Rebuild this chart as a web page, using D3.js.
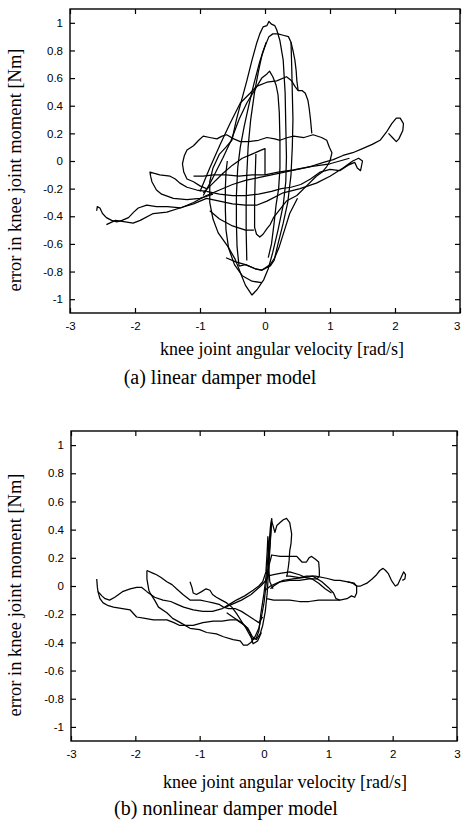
<!DOCTYPE html>
<html>
<head>
<meta charset="utf-8">
<script src="https://cdn.jsdelivr.net/npm/d3@7"></script>
<style>
  body { margin: 0; background: #fff; }
  svg { display: block; }
</style>
</head>
<body>
<svg id="chart" width="462" height="822"></svg>
<script>
const svg = d3.select('#chart')

const xTicks = [-3, -2, -1, 0, 1, 2, 3]
const yTicks = [-1, -0.8, -0.6, -0.4, -0.2, 0, 0.2, 0.4, 0.6, 0.8, 1]
const yLabel = 'error in knee joint moment [Nm]'
const xLabel = 'knee joint angular velocity [rad/s]'
const captions = ['(a) linear damper model', '(b) nonlinear damper model']

// (a) linear damper model : traces, [velocity, error]
const topDiagUpper = [[-2.59,-0.36],[-2.58,-0.33],[-2.54,-0.34],[-2.50,-0.38],[-2.44,-0.41],[-2.36,-0.43],[-2.28,-0.44],[-2.20,-0.43],[-2.10,-0.41],[-2.02,-0.37],[-1.95,-0.34],[-1.82,-0.32],[-1.67,-0.33],[-1.50,-0.33],[-1.30,-0.34],[-1.10,-0.30],[-0.90,-0.25],[-0.70,-0.21],[-0.50,-0.17],[-0.30,-0.14],[-0.10,-0.12],[0.10,-0.10],[0.30,-0.08],[0.50,-0.06],[0.70,-0.04],[0.90,-0.01],[1.05,0.01],[1.20,0.04],[1.35,0.06],[1.50,0.09],[1.65,0.12],[1.77,0.15],[1.87,0.21],[1.95,0.27],[2.02,0.31],[2.08,0.31],[2.13,0.27],[2.12,0.22],[2.06,0.16],[2.02,0.14],[1.96,0.17],[1.90,0.20]]
const topDiagLower = [[-2.44,-0.46],[-2.30,-0.43],[-2.15,-0.44],[-2.03,-0.45],[-1.92,-0.43],[-1.72,-0.38],[-1.51,-0.37],[-1.31,-0.34],[-1.10,-0.31],[-0.90,-0.27],[-0.70,-0.29],[-0.50,-0.31],[-0.30,-0.32],[-0.13,-0.32],[0.03,-0.29],[0.28,-0.23],[0.54,-0.20],[0.79,-0.16],[1.00,-0.11],[1.20,-0.05],[1.35,0.00],[1.44,0.02],[1.50,0.00],[1.47,-0.07],[1.42,-0.05],[1.38,-0.01],[1.28,-0.03],[1.15,-0.07],[1.00,-0.06],[0.85,-0.08],[0.70,-0.13],[0.55,-0.17],[0.40,-0.19],[0.25,-0.20],[0.10,-0.22],[-0.10,-0.24],[-0.30,-0.25],[-0.50,-0.25],[-0.70,-0.24],[-0.90,-0.22]]
const topWiggleLeft = [[-0.80,-0.24],[-1.00,-0.27],[-1.20,-0.28],[-1.41,-0.27],[-1.59,-0.24],[-1.67,-0.21],[-1.74,-0.15],[-1.76,-0.11],[-1.77,-0.08],[-1.70,-0.09],[-1.62,-0.10],[-1.46,-0.11],[-1.38,-0.13],[-1.31,-0.16],[-1.20,-0.19],[-1.05,-0.21],[-0.90,-0.22]]
const topPlateau = [[-0.90,-0.20],[-1.00,-0.18],[-1.10,-0.15],[-1.20,-0.13],[-1.25,-0.08],[-1.27,-0.02],[-1.24,0.04],[-1.20,0.08],[-1.10,0.11],[-1.02,0.15],[-0.95,0.18],[-0.85,0.17],[-0.74,0.16],[-0.66,0.18],[-0.59,0.19],[-0.48,0.16],[-0.38,0.14],[-0.25,0.14],[-0.10,0.15],[0.03,0.17],[0.15,0.16],[0.23,0.15],[0.35,0.17],[0.44,0.18],[0.60,0.17],[0.74,0.19],[0.87,0.17],[0.95,0.15],[0.99,0.10],[1.03,0.06],[1.00,0.00],[0.95,-0.04],[0.88,-0.08],[0.79,-0.11],[0.64,-0.18],[0.49,-0.25],[0.33,-0.29],[0.23,-0.35],[0.13,-0.41],[0.08,-0.46],[0.03,-0.49],[-0.03,-0.53],[-0.08,-0.55],[-0.13,-0.53],[-0.16,-0.48],[-0.16,-0.30],[-0.15,-0.10],[-0.14,0.05]]
const topLoopA = [[-0.20,-0.97],[-0.30,-0.90],[-0.36,-0.83],[-0.46,-0.71],[-0.57,-0.62],[-0.72,-0.52],[-0.80,-0.42],[-0.85,-0.30],[-0.85,-0.15],[-0.80,-0.05],[-0.70,0.05],[-0.60,0.10],[-0.51,0.15],[-0.44,0.30],[-0.36,0.44],[-0.28,0.58],[-0.20,0.73],[-0.13,0.85],[-0.08,0.92],[-0.03,0.97],[0.03,0.98],[0.06,1.01],[0.10,0.99],[0.15,0.98],[0.18,0.95],[0.23,0.87],[0.28,0.73],[0.31,0.49],[0.32,0.25],[0.33,0.03],[0.32,-0.15],[0.28,-0.32],[0.20,-0.50],[0.12,-0.66],[0.05,-0.78],[-0.02,-0.86],[-0.05,-0.88],[-0.12,-0.93],[-0.20,-0.97]]
const topLoopB = [[-0.40,-0.76],[-0.43,-0.62],[-0.44,-0.45],[-0.44,-0.25],[-0.42,-0.05],[-0.38,0.10],[-0.32,0.25],[-0.25,0.40],[-0.17,0.56],[-0.08,0.72],[0.00,0.83],[0.06,0.90],[0.12,0.92],[0.20,0.92],[0.28,0.91],[0.36,0.90],[0.40,0.86],[0.41,0.70],[0.42,0.50],[0.43,0.30],[0.42,0.10],[0.40,-0.10],[0.35,-0.30],[0.28,-0.45],[0.20,-0.60],[0.14,-0.72],[0.08,-0.76],[-0.05,-0.79],[-0.15,-0.78],[-0.30,-0.75],[-0.40,-0.76]]
const topBulge = [[0.40,0.86],[0.43,0.80],[0.46,0.73],[0.48,0.65],[0.49,0.58],[0.51,0.51],[0.57,0.51],[0.62,0.49],[0.66,0.44],[0.68,0.38],[0.70,0.30],[0.72,0.20]]
const topLoopC = [[-0.95,-0.25],[-0.80,-0.12],[-0.65,0.02],[-0.52,0.15],[-0.40,0.30],[-0.28,0.42],[-0.15,0.52],[-0.05,0.60],[0.03,0.63],[0.07,0.65],[0.12,0.61],[0.17,0.55],[0.20,0.48],[0.22,0.35],[0.23,0.15],[0.23,-0.05],[0.21,-0.20],[0.17,-0.32],[0.14,-0.45],[0.10,-0.60],[0.05,-0.70]]
const topLoopD = [[-1.00,-0.22],[-0.85,-0.05],[-0.69,0.12],[-0.54,0.27],[-0.38,0.42],[-0.23,0.49],[-0.13,0.54],[0.03,0.57],[0.18,0.58],[0.33,0.61],[0.41,0.58],[0.46,0.54],[0.51,0.51]]
const topStep = [[-0.95,-0.23],[-0.80,-0.16],[-0.65,-0.09],[-0.50,-0.03],[-0.35,0.02],[-0.20,0.05],[-0.05,0.08],[0.00,0.09],[0.00,-0.10],[-0.20,-0.10],[-0.40,-0.11],[-0.60,-0.10],[-0.79,-0.10],[-0.95,-0.11],[-1.10,-0.11]]
const topStepRight = [[0.00,-0.10],[0.20,-0.08],[0.44,-0.065],[0.70,-0.04],[1.00,-0.02],[1.30,0.02]]
const topLoopE = [[-0.05,-0.88],[-0.20,-0.87],[-0.35,-0.83],[-0.47,-0.75],[-0.56,-0.63],[-0.60,-0.50],[-0.61,-0.35],[-0.61,-0.20],[-0.60,-0.08],[-0.58,0.00]]
const topLoopF = [[-0.28,-0.72],[-0.29,-0.50],[-0.29,-0.30],[-0.28,-0.10],[-0.26,0.10],[-0.22,0.30],[-0.16,0.50],[-0.10,0.65],[-0.04,0.78],[0.02,0.86]]
const topLowArc = [[-0.85,-0.36],[-0.70,-0.42],[-0.50,-0.47],[-0.30,-0.50],[-0.17,-0.50]]
const topBottomArc = [[-0.60,-0.70],[-0.45,-0.73],[-0.30,-0.75],[-0.15,-0.78],[-0.05,-0.79],[0.08,-0.75],[0.15,-0.70],[0.22,-0.62],[0.30,-0.50],[0.38,-0.38],[0.50,-0.27]]

// (b) nonlinear damper model
const botLeftUpper = [[-2.60,0.05],[-2.59,-0.01],[-2.58,-0.04],[-2.52,-0.07],[-2.47,-0.09],[-2.40,-0.10],[-2.32,-0.08],[-2.20,-0.04],[-2.08,-0.02],[-1.98,-0.01],[-1.90,-0.01],[-1.82,-0.04],[-1.70,-0.08],[-1.57,-0.10],[-1.45,-0.11],[-1.35,-0.13],[-1.25,-0.15],[-1.10,-0.17],[-0.95,-0.18],[-0.80,-0.18],[-0.65,-0.16],[-0.50,-0.13],[-0.35,-0.10],[-0.20,-0.06],[-0.05,0.00],[0.05,0.05]]
const botLeftLower = [[-2.58,-0.04],[-2.55,-0.09],[-2.50,-0.12],[-2.42,-0.14],[-2.34,-0.15],[-2.20,-0.16],[-2.08,-0.17],[-1.98,-0.22],[-1.85,-0.23],[-1.72,-0.24],[-1.51,-0.24],[-1.40,-0.26],[-1.31,-0.28],[-1.10,-0.28],[-0.95,-0.26],[-0.79,-0.25],[-0.65,-0.25],[-0.53,-0.24],[-0.43,-0.24],[-0.30,-0.28],[-0.22,-0.33],[-0.17,-0.41],[-0.10,-0.39],[-0.04,-0.33]]
const botSpikeLow = [[-1.82,0.11],[-1.82,0.05],[-1.79,-0.03],[-1.77,-0.05],[-1.70,-0.10],[-1.64,-0.15],[-1.51,-0.19],[-1.42,-0.23],[-1.30,-0.26],[-1.15,-0.30],[-1.00,-0.31],[-0.89,-0.33],[-0.74,-0.34],[-0.63,-0.36],[-0.48,-0.38],[-0.37,-0.39],[-0.32,-0.42],[-0.26,-0.42],[-0.20,-0.40],[-0.14,-0.36],[-0.08,-0.30],[-0.04,-0.22],[0.00,-0.12],[0.03,0.00],[0.06,0.12],[0.09,0.28],[0.12,0.47]]
const botSpikeHigh = [[-1.82,0.11],[-1.72,0.09],[-1.67,0.08],[-1.60,0.06],[-1.51,0.03],[-1.43,0.01],[-1.36,-0.02],[-1.26,-0.06],[-1.15,-0.10],[-1.05,-0.10],[-0.99,-0.10],[-0.89,-0.11],[-0.79,-0.12],[-0.70,-0.13],[-0.63,-0.15],[-0.55,-0.16],[-0.45,-0.16],[-0.35,-0.18],[-0.25,-0.21],[-0.15,-0.24],[-0.08,-0.26],[-0.02,-0.22]]
const botMidLeft = [[-1.15,0.03],[-1.12,-0.01],[-1.10,-0.05],[-1.05,-0.06],[-0.97,-0.04],[-0.90,-0.02],[-0.84,-0.03],[-0.80,-0.06],[-0.74,-0.08],[-0.66,-0.10],[-0.58,-0.12],[-0.50,-0.15],[-0.42,-0.20],[-0.35,-0.25],[-0.28,-0.30],[-0.22,-0.35],[-0.17,-0.38],[-0.12,-0.37],[-0.08,-0.32],[-0.05,-0.20],[0.00,-0.05],[0.04,0.10],[0.07,0.25],[0.10,0.42],[0.12,0.48]]
const botCross = [[-0.61,-0.15],[-0.50,-0.12],[-0.43,-0.10],[-0.30,-0.07],[-0.17,-0.03],[-0.08,0.00],[-0.02,0.03],[0.03,0.10],[0.05,0.25],[0.06,0.35],[0.07,0.30],[0.07,0.15],[0.09,0.03],[0.14,-0.02]]
const botVert = [[0.12,0.48],[0.11,0.40],[0.09,0.25],[0.07,0.10],[0.05,-0.05],[0.02,-0.18],[-0.02,-0.28],[-0.06,-0.34],[-0.12,-0.38],[-0.18,-0.36],[-0.25,-0.30],[-0.35,-0.26],[-0.45,-0.23],[-0.58,-0.19]]
const botRightLong = [[0.12,0.46],[0.17,0.38],[0.20,0.43],[0.25,0.45],[0.30,0.47],[0.35,0.48],[0.40,0.45],[0.43,0.37],[0.42,0.30],[0.40,0.25],[0.39,0.18],[0.38,0.14],[0.36,0.08],[0.35,0.07],[0.40,0.07],[0.55,0.06],[0.66,0.07],[0.80,0.07],[0.97,0.055],[1.10,0.04],[1.18,0.04],[1.30,0.03],[1.38,0.02],[1.44,0.00],[1.50,0.00],[1.60,0.02],[1.68,0.05],[1.75,0.08],[1.80,0.11],[1.85,0.125],[1.89,0.11],[1.93,0.09],[1.98,0.04],[2.04,0.00],[2.08,0.01],[2.12,0.05],[2.17,0.10],[2.20,0.08],[2.19,0.05],[2.15,0.04]]
const botPlateau = [[0.05,0.05],[0.08,0.15],[0.12,0.22],[0.25,0.21],[0.35,0.21],[0.51,0.21],[0.55,0.19],[0.59,0.17],[0.66,0.17],[0.70,0.20],[0.74,0.21],[0.80,0.19],[0.85,0.17],[0.86,0.11],[0.86,0.07],[0.82,0.05],[0.70,0.05],[0.55,0.04],[0.40,0.04],[0.25,0.03],[0.15,0.00],[0.10,-0.02]]
const botLower = [[0.04,-0.09],[0.15,-0.10],[0.30,-0.10],[0.40,-0.10],[0.55,-0.11],[0.70,-0.11],[0.85,-0.10],[0.92,-0.10],[1.05,-0.10],[1.18,-0.10],[1.29,-0.09],[1.36,-0.07],[1.41,-0.08],[1.44,-0.05],[1.44,0.00],[1.40,0.02],[1.30,0.03]]
const botMidA = [[0.02,-0.03],[0.10,0.00],[0.20,0.02],[0.30,0.04],[0.45,0.05],[0.60,0.06],[0.76,0.07],[0.90,0.03],[1.00,-0.01],[1.08,-0.05],[1.12,-0.09],[1.18,-0.10]]
const botMidB = [[0.05,0.07],[0.15,0.08],[0.25,0.09],[0.40,0.10],[0.55,0.08],[0.65,0.06],[0.75,0.05],[0.85,0.02],[0.95,-0.02],[1.05,-0.05]]

const topSeries = [topDiagUpper, topDiagLower, topWiggleLeft, topPlateau, topLoopA, topLoopB, topBulge, topLoopC, topLoopD, topStep, topStepRight, topLoopE, topLoopF, topLowArc, topBottomArc]
const botSeries = [botLeftUpper, botLeftLower, botSpikeLow, botSpikeHigh, botMidLeft, botCross, botVert, botRightLong, botPlateau, botLower, botMidA, botMidB]

const panels = [
  { series: topSeries, left: 70, right: 460, top: 9, bottom: 313, caption: captions[0], xLabX: 282, xLabY: 355, capX: 220, capY: 384, yLabY: 170 },
  { series: botSeries, left: 71, right: 457, top: 431, bottom: 741, caption: captions[1], xLabX: 285, xLabY: 788, capX: 226, capY: 815, yLabY: 595 }
]

const serif = '"Liberation Serif", "Times New Roman", serif'

panels.forEach(p => {
  const x = d3.scaleLinear().domain([-3, 3]).range([p.left, p.right])
  const y = d3.scaleLinear().domain([-1.1, 1.1]).range([p.bottom, p.top])
  const g = svg.append('g')

  const line = d3.line().x(d => x(d[0])).y(d => y(d[1]))
  g.selectAll('path.trace')
    .data(p.series)
    .enter()
    .append('path')
      .attr('class', 'trace')
      .attr('d', line)
      .attr('fill', 'none')
      .attr('stroke', '#000')
      .attr('stroke-width', 1.25)
      .attr('stroke-linejoin', 'round')

  // inward ticks on all four sides, matlab style
  const fmt = d => String(d)
  const xAxis = g.append('g').attr('transform', `translate(0,${p.bottom})`)
    .call(d3.axisBottom(x).tickValues(xTicks).tickSizeInner(-5).tickSizeOuter(0).tickPadding(9).tickFormat(fmt))
  g.append('g').attr('transform', `translate(0,${p.top})`)
    .call(d3.axisTop(x).tickValues(xTicks).tickSizeInner(-5).tickSizeOuter(0).tickFormat(''))
  g.append('g').attr('transform', `translate(${p.left},0)`)
    .call(d3.axisLeft(y).tickValues(yTicks).tickSizeInner(-5).tickSizeOuter(0).tickPadding(7).tickFormat(fmt))
  g.append('g').attr('transform', `translate(${p.right},0)`)
    .call(d3.axisRight(y).tickValues(yTicks).tickSizeInner(-5).tickSizeOuter(0).tickFormat(''))

  // the last x label sits right on the page edge, keep it inside
  xAxis.selectAll('.tick text').filter(d => d === 3 && p.right > 458).attr('text-anchor', 'end').attr('dx', '0px')

  g.selectAll('path.domain').remove()
  g.selectAll('.tick line').attr('stroke', '#000').attr('stroke-width', 1.2)
  g.selectAll('.tick text')
    .attr('fill', '#000')
    .style('font-family', '"Liberation Sans", Arial, sans-serif')
    .style('font-size', '11.5px')

  g.append('rect')
    .attr('x', p.left).attr('y', p.top)
    .attr('width', p.right - p.left).attr('height', p.bottom - p.top)
    .attr('fill', 'none').attr('stroke', '#000').attr('stroke-width', 1.4)

  g.append('text')
    .attr('x', p.xLabX).attr('y', p.xLabY)
    .attr('text-anchor', 'middle')
    .style('font-family', serif)
    .style('font-size', '18px')
    .text(xLabel)

  g.append('text')
    .attr('transform', `translate(21,${p.yLabY}) rotate(-90)`)
    .attr('text-anchor', 'middle')
    .style('font-family', serif)
    .style('font-size', '18.5px')
    .text(yLabel)

  g.append('text')
    .attr('x', p.capX).attr('y', p.capY)
    .attr('text-anchor', 'middle')
    .style('font-family', serif)
    .style('font-size', '20px')
    .text(p.caption)
})
</script>
</body>
</html>
